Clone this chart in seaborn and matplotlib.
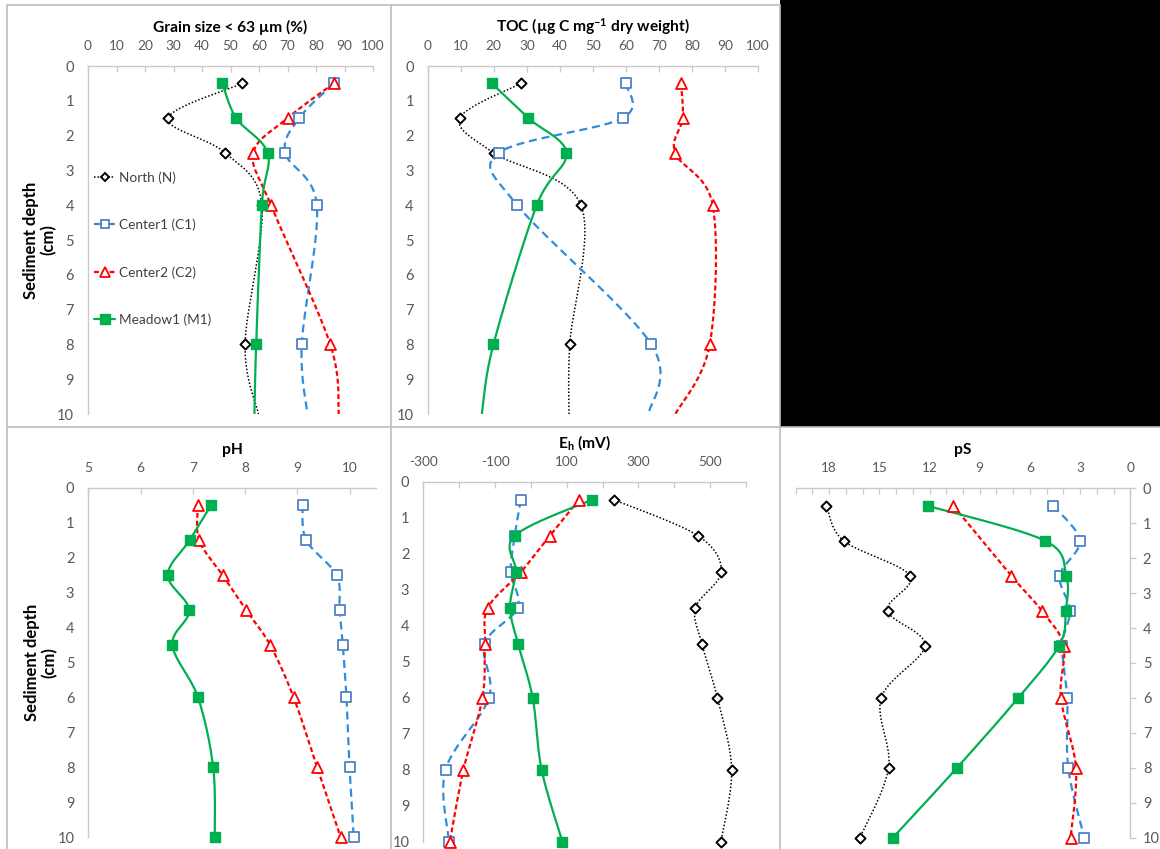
import numpy as np
import pandas as pd
import matplotlib
matplotlib.use("Agg")
import matplotlib.pyplot as plt
from matplotlib.lines import Line2D
from matplotlib.patches import Rectangle
import seaborn as sns

# ---------------- data ----------------
series_names = ["North (N)", "Center1 (C1)", "Center2 (C2)", "Meadow1 (M1)"]

# top panels: sampled depths plus line end at 10 cm (no marker)
top_depth = [0.5, 1.5, 2.5, 4, 8, 10]
top_marked = [True, True, True, True, True, False]

grain_N = [54.2, 28.1, 48.2, 61.0, 55.1, 59.8]
grain_C1 = [86.2, 74.1, 69.2, 80.3, 75.0, 77.0]
grain_C2 = [86.2, 70.0, 58.0, 64.2, 85.0, 88.0]
grain_M1 = [47.1, 52.0, 63.0, 61.0, 59.0, 58.4]

toc_N = [28.2, 9.7, 20.0, 46.4, 43.0, 42.8]
toc_C1 = [60.0, 59.0, 21.5, 27.1, 67.7, 66.9]
toc_C2 = [76.7, 77.2, 74.9, 86.3, 85.4, 75.0]
toc_M1 = [19.4, 30.5, 42.0, 33.0, 19.9, 16.4]

bottom_depth = [0.5, 1.5, 2.5, 3.5, 4.5, 6, 8, 10]

ph_C1 = [9.10, 9.17, 9.75, 9.81, 9.87, 9.94, 10.00, 10.08]
ph_C2 = [7.10, 7.12, 7.57, 8.02, 8.48, 8.93, 9.38, 9.83]
ph_M1 = [7.35, 6.94, 6.52, 6.93, 6.61, 7.10, 7.39, 7.42]

eh_N = [231, 466, 531, 459, 477, 520, 560, 530]
eh_C1 = [-28, -45, -56, -37, -129, -117, -238, -228]
eh_C2 = [134, 53, -27, -120, -128, -135, -188, -226]
eh_M1 = [170, -45, -42, -58, -36, 5, 30, 88]

ps_N = [18.16, 17.14, 13.18, 14.51, 12.28, 14.89, 14.45, 16.16]
ps_C1 = [4.60, 3.01, 4.21, 3.61, 4.07, 3.77, 3.71, 2.75]
ps_C2 = [10.58, np.nan, 7.12, 5.30, 3.99, 4.15, 3.25, 3.57]
ps_M1 = [12.12, 5.10, 3.83, 3.85, 4.25, 6.70, 10.36, 14.19]

# ---------------- styles ----------------
styles = {
    "North (N)": dict(lc="black", ls=(0, (1.0, 1.3)), lw=1.1, marker="D", ms=26,
                      fc="white", ec="black", mew=1.4),
    "Center1 (C1)": dict(lc="#2f8ddb", ls=(0, (3.6, 2.2)), lw=1.6, marker="s", ms=58,
                         fc="white", ec="#4f81c6", mew=1.3),
    "Center2 (C2)": dict(lc="#ff0000", ls=(0, (2.2, 1.3)), lw=1.6, marker="^", ms=62,
                         fc="white", ec="#ff0000", mew=1.3),
    "Meadow1 (M1)": dict(lc="#00b050", ls="-", lw=1.6, marker="s", ms=62,
                         fc="#00b050", ec="#00b050", mew=1.0),
}

sns.set_theme(style="white")
plt.rcParams["font.family"] = ["Lato", "DejaVu Sans"]
plt.rcParams["axes.unicode_minus"] = False
plt.rcParams["mathtext.default"] = "regular"

W, H = 1160, 849
fig = plt.figure(figsize=(W / 100, H / 100), dpi=100)

GRAY = "#c9c9c9"
TXT = "#595959"
TICK_FS = 9.8


def px_axes(x0, x1, y0, y1):
    return fig.add_axes([x0 / W, 1 - y1 / H, (x1 - x0) / W, (y1 - y0) / H])


def excel_smooth(x, y, sx, sy, n=30):
    P = np.column_stack([np.asarray(x, float) * sx, np.asarray(y, float) * sy])
    out = [P[0]]
    m = len(P)
    for i in range(m - 1):
        p0 = P[i - 1] if i > 0 else P[i]
        p1, p2 = P[i], P[i + 1]
        p3 = P[i + 2] if i + 2 < m else P[i + 1]
        c1 = p1 + (p2 - p0) / 6.0
        c2 = p2 - (p3 - p1) / 6.0
        t = np.linspace(0, 1, n)[1:, None]
        B = (1 - t) ** 3 * p1 + 3 * (1 - t) ** 2 * t * c1 + 3 * (1 - t) * t ** 2 * c2 + t ** 3 * p2
        out.extend(B)
    out = np.array(out)
    return out[:, 0] / sx, out[:, 1] / sy


def draw_series(ax, name, vals, depths, marked, wpx, hpx):
    st = styles[name]
    vals = np.asarray(vals, float)
    depths = np.asarray(depths, float)
    marked = np.asarray(marked, bool)
    ok = ~np.isnan(vals)
    xl = ax.get_xlim()
    yl = ax.get_ylim()
    sx = wpx / abs(xl[1] - xl[0])
    sy = hpx / abs(yl[1] - yl[0])
    xs, ys = excel_smooth(vals[ok], depths[ok], sx, sy)
    sns.lineplot(x=xs, y=ys, sort=False, estimator=None, ax=ax, color=st["lc"],
                 linestyle=st["ls"], linewidth=st["lw"], zorder=2)
    mk = ok & marked
    sns.scatterplot(x=vals[mk], y=depths[mk], ax=ax, marker=st["marker"], s=st["ms"],
                    facecolor=st["fc"], edgecolor=st["ec"], linewidth=st["mew"], zorder=3,
                    clip_on=False)


def style_axes(ax, xlim, xticks, xlabels, xminor=None, right=False):
    ax.set_xlim(*xlim)
    ax.set_ylim(10, 0)
    ax.xaxis.tick_top()
    ax.set_xticks(xticks)
    ax.set_xticklabels(xlabels)
    if xminor is not None:
        ax.set_xticks(xminor, minor=True)
    ax.set_yticks(range(0, 11))
    ax.set_yticklabels([str(i) for i in range(0, 11)])
    for sp in ax.spines.values():
        sp.set_visible(False)
    ax.spines["top"].set_visible(True)
    ax.spines["top"].set_color(GRAY)
    ax.spines["top"].set_linewidth(1.0)
    side = "right" if right else "left"
    ax.spines[side].set_visible(True)
    ax.spines[side].set_color(GRAY)
    ax.spines[side].set_linewidth(1.0)
    if right:
        ax.yaxis.tick_right()
    ax.tick_params(axis="x", which="both", direction="in", length=4, width=0.9, color=GRAY,
                   labelsize=TICK_FS, labelcolor=TXT, pad=10, top=True, bottom=False)
    ax.tick_params(axis="y", direction="out", length=4, width=0.9, color=GRAY,
                   labelsize=TICK_FS + 0.7, labelcolor=TXT, pad=6)
    ax.grid(False)
    ax.set_xlabel("")
    ax.set_ylabel("")
    ax.set_facecolor("none")


def panel_title(ax, text, off_px, hpx):
    ax.text(0.5, 1 + off_px / hpx, text, transform=ax.transAxes, ha="center", va="center",
            fontsize=11.2, fontweight="bold", color="black")


# ---------------- panel 1: grain size ----------------
g = dict(x0=88, x1=373, y0=66, y1=414)
ax1 = px_axes(g["x0"], g["x1"], g["y0"], g["y1"])
grain_ticks = list(range(0, 101, 10))
style_axes(ax1, (0, 100), grain_ticks, [str(v) for v in grain_ticks])
w1, h1 = g["x1"] - g["x0"], g["y1"] - g["y0"]
for name, vals in zip(series_names, [grain_N, grain_C1, grain_C2, grain_M1]):
    draw_series(ax1, name, vals, top_depth, top_marked, w1, h1)
style_axes(ax1, (0, 100), grain_ticks, [str(v) for v in grain_ticks])
panel_title(ax1, "Grain size < 63 µm (%)", 39, h1)

# ---------------- panel 2: TOC ----------------
t = dict(x0=427.7, x1=758, y0=66, y1=414)
ax2 = px_axes(t["x0"], t["x1"], t["y0"], t["y1"])
style_axes(ax2, (0, 100), grain_ticks, [str(v) for v in grain_ticks])
w2, h2 = t["x1"] - t["x0"], t["y1"] - t["y0"]
for name, vals in zip(series_names, [toc_N, toc_C1, toc_C2, toc_M1]):
    draw_series(ax2, name, vals, top_depth, top_marked, w2, h2)
style_axes(ax2, (0, 100), grain_ticks, [str(v) for v in grain_ticks])
panel_title(ax2, r"TOC (µg C mg$^{-1}$ dry weight)", 39, h2)

# ---------------- panel 4: pH ----------------
p = dict(x0=88.3, x1=375.7, y0=487.7, y1=837.3)
ax4 = px_axes(p["x0"], p["x1"], p["y0"], p["y1"])
ph_ticks = list(range(5, 11))
style_axes(ax4, (5, 10.5), ph_ticks, [str(v) for v in ph_ticks])
w4, h4 = p["x1"] - p["x0"], p["y1"] - p["y0"]
all_marked = [True] * len(bottom_depth)
for name, vals in zip(series_names[1:], [ph_C1, ph_C2, ph_M1]):
    draw_series(ax4, name, vals, bottom_depth, all_marked, w4, h4)
style_axes(ax4, (5, 10.5), ph_ticks, [str(v) for v in ph_ticks])
panel_title(ax4, "pH", 37.7, h4)

# ---------------- panel 5: Eh ----------------
e = dict(x0=423.3, x1=746, y0=481.7, y1=841.7)
ax5 = px_axes(e["x0"], e["x1"], e["y0"], e["y1"])
eh_major = list(range(-300, 501, 200))
eh_minor = list(range(-200, 601, 200))
style_axes(ax5, (-300, 600), eh_major, [str(v) for v in eh_major], xminor=eh_minor)
w5, h5 = e["x1"] - e["x0"], e["y1"] - e["y0"]
for name, vals in zip(series_names, [eh_N, eh_C1, eh_C2, eh_M1]):
    draw_series(ax5, name, vals, bottom_depth, all_marked, w5, h5)
style_axes(ax5, (-300, 600), eh_major, [str(v) for v in eh_major], xminor=eh_minor)
panel_title(ax5, r"E$_{h}$ (mV)", 38.7, h5)

# ---------------- panel 6: pS ----------------
s = dict(x0=795.7, x1=1130.3, y0=488.3, y1=837.7)
ax6 = px_axes(s["x0"], s["x1"], s["y0"], s["y1"])
ps_major = list(range(0, 19, 3))
ps_minor = [v for v in range(0, 21) if v % 3 != 0]
style_axes(ax6, (20, 0), ps_major, [str(v) for v in ps_major], xminor=ps_minor, right=True)
w6, h6 = s["x1"] - s["x0"], s["y1"] - s["y0"]
for name, vals in zip(series_names, [ps_N, ps_C1, ps_C2, ps_M1]):
    draw_series(ax6, name, vals, bottom_depth, all_marked, w6, h6)
style_axes(ax6, (20, 0), ps_major, [str(v) for v in ps_major], xminor=ps_minor, right=True)
ax6.tick_params(axis="y", direction="out", length=4, pad=5)
panel_title(ax6, "pS", 38.3, h6)

# ---------------- y labels ----------------
for ax in (ax1, ax4):
    ax.set_ylabel("Sediment depth\n(cm)", fontsize=12, fontweight="bold", color="black",
                  labelpad=0, linespacing=1.1)

# ---------------- legend ----------------
handles = []
for name in series_names:
    st = styles[name]
    handles.append(Line2D([0], [0], color=st["lc"], linestyle=st["ls"], linewidth=st["lw"],
                          marker=st["marker"], markersize=np.sqrt(st["ms"]) * 0.85,
                          markerfacecolor=st["fc"], markeredgecolor=st["ec"],
                          markeredgewidth=st["mew"]))
leg = ax1.legend(handles=handles, labels=series_names, loc="upper left",
                 bbox_to_anchor=(0.02, 0.697), frameon=False, fontsize=9.8,
                 labelspacing=2.55, handlelength=1.6, handletextpad=0.25, borderpad=0,
                 borderaxespad=0)
for txt in leg.get_texts():
    txt.set_color("#404040")

# ---------------- panel frames ----------------
def fig_line(xa, ya, xb, yb):
    fig.add_artist(Line2D([xa / W, xb / W], [1 - ya / H, 1 - yb / H], color="#bdbdbd",
                          linewidth=1.2, transform=fig.transFigure))

fig.add_artist(Rectangle((780 / W, 1 - 427 / H), (W - 780) / W, 427 / H, facecolor="black",
                         edgecolor="none", transform=fig.transFigure, zorder=0))
fig_line(7, 5, 780, 5)
fig_line(7, 5, 7, H)
fig_line(391, 5, 391, H)
fig_line(780, 5, 780, H)
fig_line(7, 427, W, 427)

fig.savefig("out.png", dpi=100)
